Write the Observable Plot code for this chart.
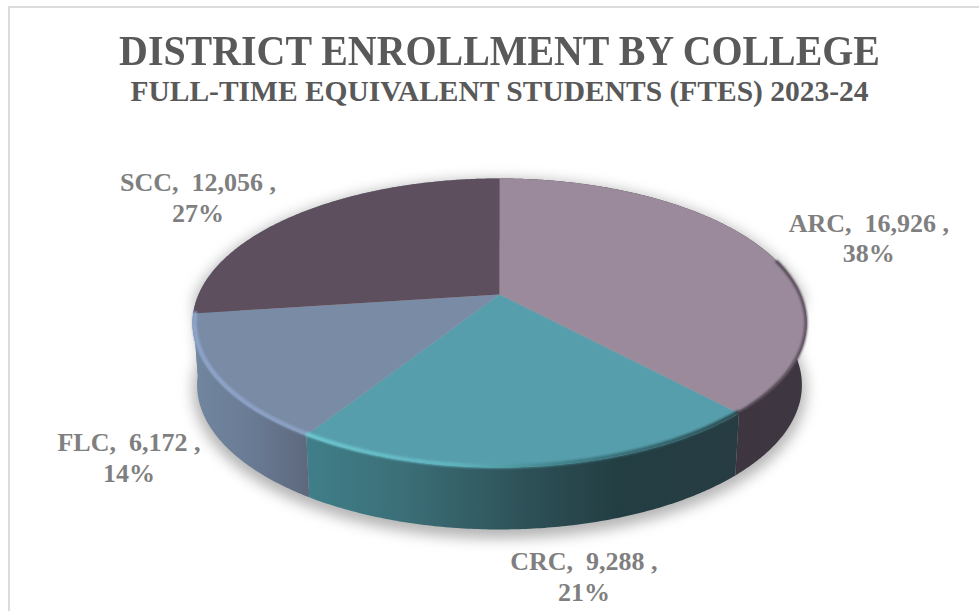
<!DOCTYPE html>
<html><head><meta charset="utf-8">
<script src="https://cdn.jsdelivr.net/npm/d3@7"></script>
<script src="https://cdn.jsdelivr.net/npm/@observablehq/plot@0.6"></script>
<style>
html,body{margin:0;padding:0;background:#fff;width:979px;height:611px;overflow:hidden}
#frame{position:absolute;left:8px;top:6px;right:-5px;bottom:-5px;border-left:2px solid #dcdcdc;border-top:2px solid #dcdcdc}
#head{position:relative;height:112px;font-family:"Liberation Serif",serif;font-weight:bold;color:#595959;text-align:center;overflow:hidden}
#head h1{position:absolute;left:0;width:999px;margin:0;top:27px;font-size:42px;line-height:48px;font-weight:bold;transform:scaleX(.95);transform-origin:500px 0}
#head h2{position:absolute;left:0;width:999px;margin:0;top:75px;font-size:29.5px;line-height:32px;font-weight:bold;transform:scaleX(1.0);transform-origin:500px 0}
#chart{position:relative}
#chart svg{display:block}
</style></head>
<body>
<div id="frame"></div>
<div id="head">
  <h1>DISTRICT ENROLLMENT BY COLLEGE</h1>
  <h2>FULL-TIME EQUIVALENT STUDENTS (FTES) 2023-24</h2>
</div>
<div id="chart"></div>
<script>
// ---- data
const colleges = ["ARC", "CRC", "FLC", "SCC"];
const ftes = [16926, 9288, 6172, 12056];
const shares = ["38%", "21%", "14%", "27%"];
const topColors = ["#9a8a9c", "#579eac", "#7a8ba6", "#5d4f5d"];
const labelNudges = [[108, -10], [50, 109], [-87, 78], [-101, -17]];

// ---- geometry of the tilted disc
const headH = 112, W = 979, H = 611 - headH;
const cx = 499, cy = 294, R = 301, Ry = 138.9, persp = 0.197, depth = 62;
const rim = (t, bottom = false) => {
  const u = Math.sin(t), v = Math.cos(t), s = 1 / (1 + persp * v);
  return {
    x: cx + R * u * s * (bottom ? 0.985 : 1),
    y: cy - Ry * v * s + (bottom ? depth : 0)
  };
};
const arc = (a, b, bottom = false) => {
  const n = Math.max(2, Math.ceil((b - a) / 0.01));
  return d3.range(n + 1).map(i => rim(a + (b - a) * i / n, bottom));
};
const inset = (pts, f) => pts.map(p => ({x: cx + (p.x - cx) * f, y: cy + (p.y - cy) * f}));
const pie = d3.pie().sort(null)(ftes);
const slices = pie.map((p, i) => ({name: colleges[i], a: p.startAngle, b: p.endAngle, i}));

const topRows = slices.flatMap(s => [{x: cx, y: cy}, ...arc(s.a, s.b)].map(p => ({...p, name: s.name})));
const wall = s => [...arc(s.a, s.b), ...arc(s.a, s.b, true).reverse()];
const outline = [...arc(Math.PI * 0.5, Math.PI * 1.5, true), ...arc(Math.PI * 1.5, Math.PI * 2.5)];
const labels = slices.map((s, i) => {
  const m = rim((s.a + s.b) / 2);
  return {
    x: m.x + labelNudges[i][0], y: m.y + labelNudges[i][1],
    text: `${s.name},  ${d3.format(",")(ftes[i])} ,\n${shares[i]}`
  };
});

// ---- gradient definitions
const grads = {
  sideFLC: [[0, "#71869f"], [0.5, "#6a7b95"], [1, "#5d687c"]],
  sideCRC: [[0, "#3f7f89"], [0.22, "#3c6f78"], [0.5, "#2e5158"], [0.72, "#233e43"], [1, "#263c42"]],
  sideARC: [[0, "#3c333d"], [1, "#3e3640"]],
  sideSCC: [[0, "#71869f"], [1, "#71869f"]],
  bevelFLC: [[0, "#8ea6cc"], [1, "#8ba1c4"]],
  bevelCRC: [[0, "#6cc8d0"], [0.35, "#5fb4bf"], [0.6, "#3f7f88"], [1, "#2a4a50"]],
  bevelARC: [[0, "#3c333d"], [1, "#5c4f5d"]]
};
const defs = () => {
  const d = d3.create("svg:defs");
  for (const [id, stops] of Object.entries(grads)) {
    const g = d.append("linearGradient").attr("id", id);
    for (const [o, c] of stops) g.append("stop").attr("offset", o).attr("stop-color", c);
  }
  return d.node();
};

const sl = Object.fromEntries(slices.map(s => [s.name, s]));
const bevel = (a, b, id, w, f) => Plot.line(inset(arc(a, b), f), {
  x: "x", y: "y", stroke: `url(#${id})`, strokeWidth: w, imageFilter: "blur(1.2px)"
});
const plot = Plot.plot({
  width: W, height: H, margin: 0,
  x: {domain: [0, W], range: [0, W], axis: null},
  y: {domain: [headH, 611], range: [0, H], axis: null},
  color: {domain: colleges, range: topColors},
  marks: [
    defs,
    // soft shadow under the disc
    Plot.line(outline.map(p => ({x: p.x, y: p.y + 5})), {
      x: "x", y: "y", fill: "#b4b4b4", stroke: "#b4b4b4", strokeWidth: 8,
      imageFilter: "blur(7px)"
    }),
    // walls
    ...slices.map(s => Plot.line(wall(s), {
      x: "x", y: "y", fill: `url(#side${s.name})`, stroke: "none"
    })),
    // top faces
    Plot.line(topRows, {x: "x", y: "y", z: "name", fill: "name", stroke: "none"}),
    // bevel round the rim
    bevel(sl.FLC.a, sl.FLC.b, "bevelFLC", 4, 0.993),
    bevel(sl.CRC.a, sl.CRC.b, "bevelCRC", 4, 0.993),
    bevel(Math.PI * 0.42, sl.ARC.b, "bevelARC", 3, 0.998),
    // data labels
    Plot.text(labels, {
      x: "x", y: "y", text: "text", fill: "#7f7f7f", fontSize: 26, fontWeight: "bold",
      fontFamily: "Liberation Serif", lineHeight: 1.19, textAnchor: "middle", lineAnchor: "middle"
    })
  ]
});
document.getElementById("chart").append(plot);
</script>
</body></html>
